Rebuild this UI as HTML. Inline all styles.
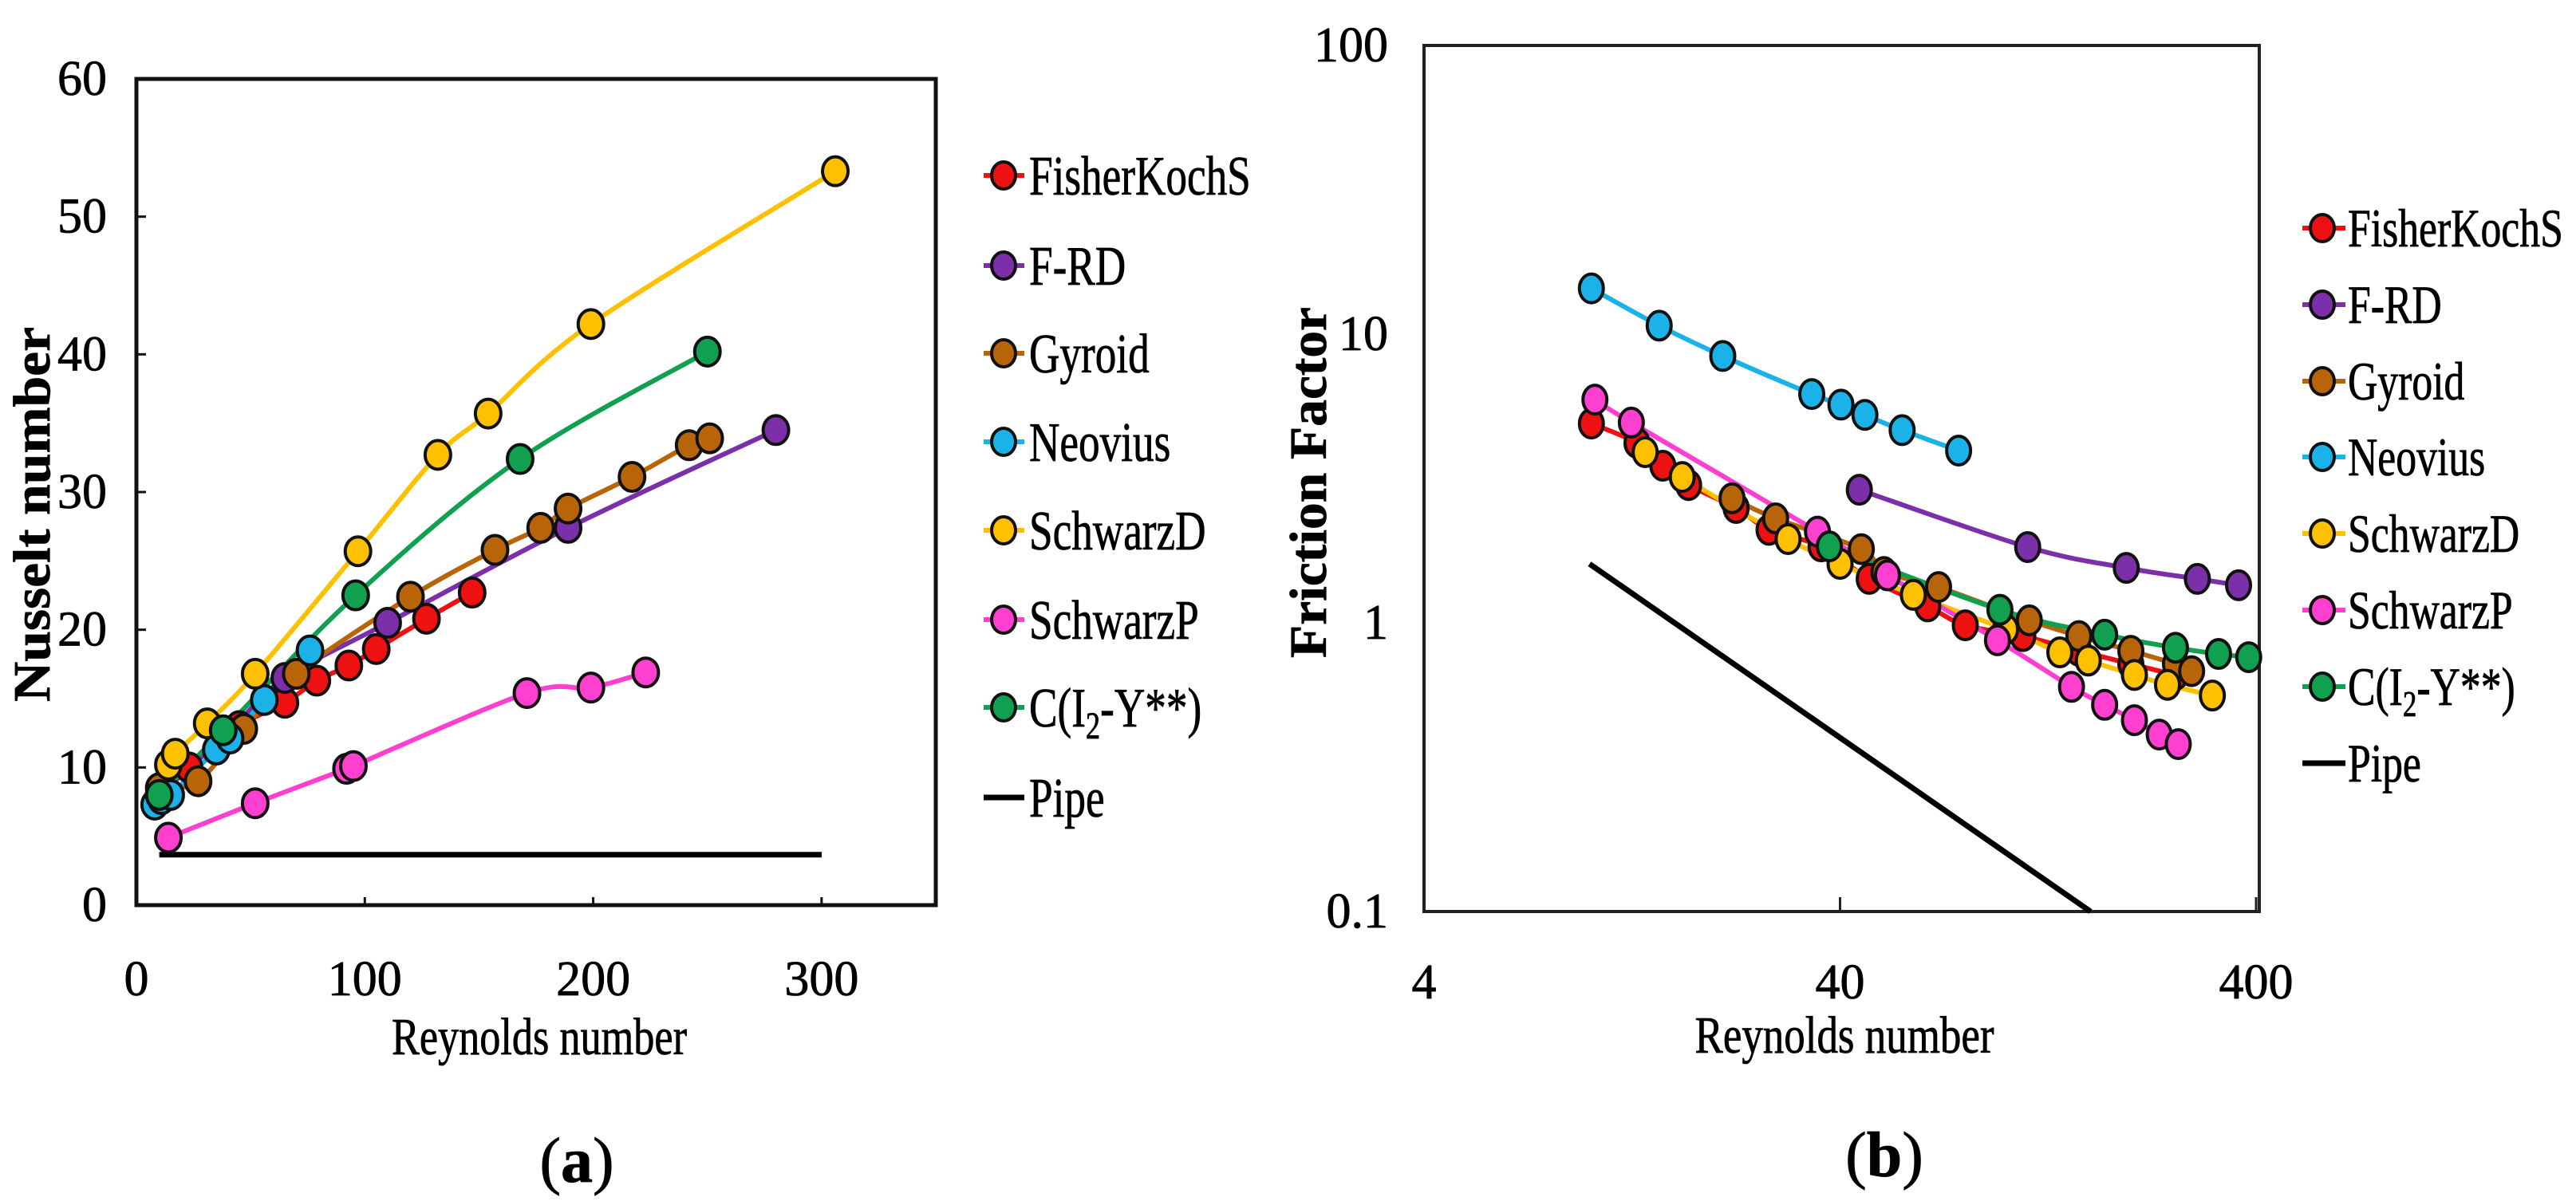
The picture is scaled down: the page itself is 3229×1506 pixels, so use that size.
<!DOCTYPE html>
<html><head><meta charset="utf-8"><style>
html,body{margin:0;padding:0;background:#fff;}
svg{display:block;}
text{font-family:"Liberation Serif",serif;fill:#000;stroke:#000;stroke-width:0.8;}
</style></head><body>
<svg id="fig" width="3229" height="1506" viewBox="0 0 3229 1506" xmlns="http://www.w3.org/2000/svg">
<g id="ga"></g>
<g id="gb"></g>
</svg>
<script>
// ---------- Chart (a) data ----------
const seriesNames = ["FisherKochS","F-RD","Gyroid","Neovius","SchwarzD","SchwarzP","C(I2-Y**)","Pipe"];
const seriesColors = ["#ee1111","#7b2fa8","#b8650a","#1ab2e8","#ffc000","#ff3fd0","#10a050","#000000"];
const nuFisherRe = [10,23,45,65,79,93,105,127,147];
const nuFisherNu = [8,10,13,14.7,16.3,17.4,18.6,20.8,22.7];
const nuFrdRe = [10,40,65,110,189,280];
const nuFrdNu = [8,12.5,16.5,20.5,27.4,34.5];
const nuGyrRe = [10,27,47,70,120,157,177,189,217,242,251];
const nuGyrNu = [8.5,9,12.8,16.8,22.4,25.8,27.4,28.8,31.1,33.4,33.9];
const nuNeoRe = [8,11,15,35,41,56,76];
const nuNeoNu = [7.3,7.7,8,11.3,12.1,14.9,18.5];
const nuSdRe = [14,17,31,52,97,132,154,199,306];
const nuSdNu = [10.2,11,13.2,16.8,25.7,32.7,35.7,42.2,53.3];
const nuSpRe = [14,52,92,95,171,199,223];
const nuSpNu = [4.9,7.4,9.9,10.1,15.4,15.8,16.9];
const nuCRe = [10,38,96,168,250];
const nuCNu = [8,12.7,22.5,32.4,40.2];
const nuPipeRe = [10,300];
const nuPipeNu = [3.66,3.66];
const aXTicks = [0,100,200,300];
const aYTicks = [0,10,20,30,40,50,60];

// ---------- Chart (b) data ----------
const fFisherRe = [10.1,13,15,17.3,22.5,27,36,47,65,80,110,150,200,256];
const fFisherF = [4.9,4.2,3.5,3.0,2.5,2.1,1.84,1.42,1.14,0.98,0.9,0.8,0.72,0.66];
const fFrdRe = [44.5,113,195,289,363];
const fFrdF = [2.89,1.83,1.55,1.42,1.35];
const fGyrRe = [22,28,45,51,69,114,150,200,256,280];
const fGyrF = [2.7,2.3,1.8,1.5,1.33,1.02,0.9,0.8,0.72,0.68];
const fNeoRe = [10.1,14.7,20.9,34.2,40.2,45.9,56.4,77.1];
const fNeoF = [14.4,10.7,8.4,6.2,5.7,5.25,4.65,3.95];
const fSdRe = [13.6,16.7,30,40,60,100,135,158,204,245,314];
const fSdF = [3.9,3.2,1.95,1.6,1.25,0.95,0.79,0.74,0.66,0.61,0.56];
const fSpRe = [10.3,12.6,35.3,52,95.6,144,173,204,234,260];
const fSpF = [5.93,4.94,2.07,1.46,0.87,0.6,0.52,0.46,0.41,0.38];
const fCRe = [37.7,96.9,173,256,325,384];
const fCF = [1.84,1.11,0.91,0.82,0.78,0.76];
const fPipeRe = [10,160];
const fPipeF = [1.6,0.1];
const bXTicks = [4,40,400];
const bYTicks = [0.1,1,10,100];

const NS="http://www.w3.org/2000/svg";
function mk(tag, attrs, parent){const e=document.createElementNS(NS,tag);for(const k in attrs)e.setAttribute(k,attrs[k]);parent.appendChild(e);return e;}
function smoothPath(pts){
  if(pts.length<3) return "M"+pts.map(p=>p[0].toFixed(1)+","+p[1].toFixed(1)).join(" L");
  let d="M"+pts[0][0]+","+pts[0][1];
  for(let i=0;i<pts.length-1;i++){
    const p0=pts[i-1]||pts[i],p1=pts[i],p2=pts[i+1],p3=pts[i+2]||p2;
    const t=1/6;
    d+=" C"+(p1[0]+(p2[0]-p0[0])*t)+","+(p1[1]+(p2[1]-p0[1])*t)+" "+(p2[0]-(p3[0]-p1[0])*t)+","+(p2[1]-(p3[1]-p1[1])*t)+" "+p2[0]+","+p2[1];
  }
  return d;
}

// ---------- Draw chart (a) ----------
(function(){
  const g=document.getElementById('ga');
  const L=171,R=1173,T=99,B=1135;
  const xA=v=>L+(v/350)*(R-L);
  const yA=v=>B-(v/60)*(B-T);
  const series=[[nuFisherRe,nuFisherNu],[nuFrdRe,nuFrdNu],[nuGyrRe,nuGyrNu],[nuNeoRe,nuNeoNu],[nuSdRe,nuSdNu],[nuSpRe,nuSpNu],[nuCRe,nuCNu],[nuPipeRe,nuPipeNu]];
  const frame=mk('rect',{x:L,y:T,width:R-L,height:B-T,fill:'none',stroke:'#111','stroke-width':5},g);
  
  
  aXTicks.forEach(v=>{
    const tk=mk('line',{x1:xA(v),x2:xA(v),y1:B,y2:B-10,stroke:'#111','stroke-width':3},g);
    
    
    const t=mk('text',{x:xA(v),y:1248,'font-size':62,'text-anchor':'middle'},g);
    t.textContent=v;
    
    
  });
  aYTicks.forEach(v=>{
    const tk=mk('line',{x1:L,x2:L+12,y1:yA(v),y2:yA(v),stroke:'#111','stroke-width':3},g);
    
    
    const t=mk('text',{x:134,y:yA(v)+20,'font-size':62,'text-anchor':'end'},g);
    t.textContent=v;
    
    
  });
  series.forEach((s,i)=>{
    const pts=s[0].map((r,j)=>[xA(r),yA(s[1][j])]);
    const p=mk('path',{d:smoothPath(pts),fill:'none',stroke:seriesColors[i],'stroke-width':i==7?7:6},g);
    
    
  });
  series.forEach((s,i)=>{
    if(i==7) return;
    s[0].forEach((r,j)=>{
      const c=mk('ellipse',{cx:xA(r),cy:yA(s[1][j]),rx:16,ry:18,fill:seriesColors[i],stroke:'#111','stroke-width':4},g);
      
      
    });
  });
  const xl=mk('text',{x:676,y:1322,'font-size':66,'text-anchor':'middle',textLength:370,lengthAdjust:'spacingAndGlyphs'},g);
  xl.textContent='Reynolds number';
  
  
  const yl=mk('text',{x:0,y:0,'font-size':66,'font-weight':'bold','text-anchor':'middle',transform:'translate(62,645) rotate(-90)',textLength:470,lengthAdjust:'spacingAndGlyphs'},g);
  yl.textContent='Nusselt number';
  
  
  const cap=mk('text',{x:723,y:1482,'font-size':80,'text-anchor':'middle'},g);
  cap.innerHTML='(<tspan font-weight="bold">a</tspan>)';
  
  
  const ly=[220,333,443,554,665,777,887,1000];
  seriesNames.forEach((n,i)=>{
    const lg=mk('g',{},g);
    
    
    mk('line',{x1:1233,x2:1284,y1:ly[i],y2:ly[i],stroke:seriesColors[i],'stroke-width':i==7?7:6},lg);
    if(i<7) mk('ellipse',{cx:1258,cy:ly[i],rx:15,ry:17,fill:seriesColors[i],stroke:'#111','stroke-width':4},lg);
    const t=mk('text',{x:0,y:0,'font-size':70,transform:'translate(1290,'+(ly[i]+24)+') scale(0.76,1)'},lg);
    if(i==6) t.innerHTML='C(I<tspan font-size="48" dy="15">2</tspan><tspan dy="-15">-Y**)</tspan>';
    else t.textContent=n;
  });
})();

// ---------- Draw chart (b) ----------
(function(){
  const g=document.getElementById('gb');
  const L=1785,R=2832,T=57,B=1143;
  const dec=521.5;
  const xB=v=>L+Math.log10(v/4)*dec;
  const yB=v=>B-(Math.log10(v)+1)*(B-T)/3;
  const series=[[fFisherRe,fFisherF],[fFrdRe,fFrdF],[fGyrRe,fGyrF],[fNeoRe,fNeoF],[fSdRe,fSdF],[fSpRe,fSpF],[fCRe,fCF],[fPipeRe,fPipeF]];
  const frame=mk('rect',{x:L,y:T,width:R-L,height:B-T,fill:'none',stroke:'#222','stroke-width':4},g);
  
  
  bXTicks.forEach(v=>{
    const tk=mk('line',{x1:xB(v),x2:xB(v),y1:B,y2:B-18,stroke:'#222','stroke-width':3},g);
    
    
    const t=mk('text',{x:xB(v),y:1252,'font-size':62,'text-anchor':'middle'},g);
    t.textContent=v;
    
    
  });
  bYTicks.forEach(v=>{
    const t=mk('text',{x:1740,y:yB(v)+20,'font-size':62,'text-anchor':'end'},g);
    t.textContent=v;
    
    
  });
  const order=[7,3,1,0,2,4,5,6];
  order.forEach(i=>{
    const s=series[i];
    const pts=s[0].map((r,j)=>[xB(r),yB(s[1][j])]);
    const p=mk('path',{d:smoothPath(pts),fill:'none',stroke:seriesColors[i],'stroke-width':i==7?7:6},g);
    
    
  });
  order.forEach(i=>{
    if(i==7) return;
    const s=series[i];
    s[0].forEach((r,j)=>{
      const c=mk('ellipse',{cx:xB(r),cy:yB(s[1][j]),rx:15,ry:18,fill:seriesColors[i],stroke:'#111','stroke-width':4},g);
      
      
    });
  });
  const xl=mk('text',{x:2312,y:1320,'font-size':66,'text-anchor':'middle',textLength:375,lengthAdjust:'spacingAndGlyphs'},g);
  xl.textContent='Reynolds number';
  
  
  const yl=mk('text',{x:0,y:0,'font-size':66,'font-weight':'bold','text-anchor':'middle',transform:'translate(1662,605) rotate(-90)',textLength:440,lengthAdjust:'spacingAndGlyphs'},g);
  yl.textContent='Friction Factor';
  
  
  const cap=mk('text',{x:2362,y:1475,'font-size':80,'text-anchor':'middle'},g);
  cap.innerHTML='(<tspan font-weight="bold">b</tspan>)';
  
  
  const ly=[286,382,478,573,669,765,861,957];
  seriesNames.forEach((n,i)=>{
    const lg=mk('g',{},g);
    
    
    mk('line',{x1:2886,x2:2940,y1:ly[i],y2:ly[i],stroke:seriesColors[i],'stroke-width':i==7?7:6},lg);
    if(i<7) mk('ellipse',{cx:2911,cy:ly[i],rx:15,ry:17,fill:seriesColors[i],stroke:'#111','stroke-width':4},lg);
    const t=mk('text',{x:0,y:0,'font-size':68,transform:'translate(2943,'+(ly[i]+23)+') scale(0.76,1)'},lg);
    if(i==6) t.innerHTML='C(I<tspan font-size="46" dy="14">2</tspan><tspan dy="-14">-Y**)</tspan>';
    else t.textContent=n;
  });
})();
</script>
</body></html>
